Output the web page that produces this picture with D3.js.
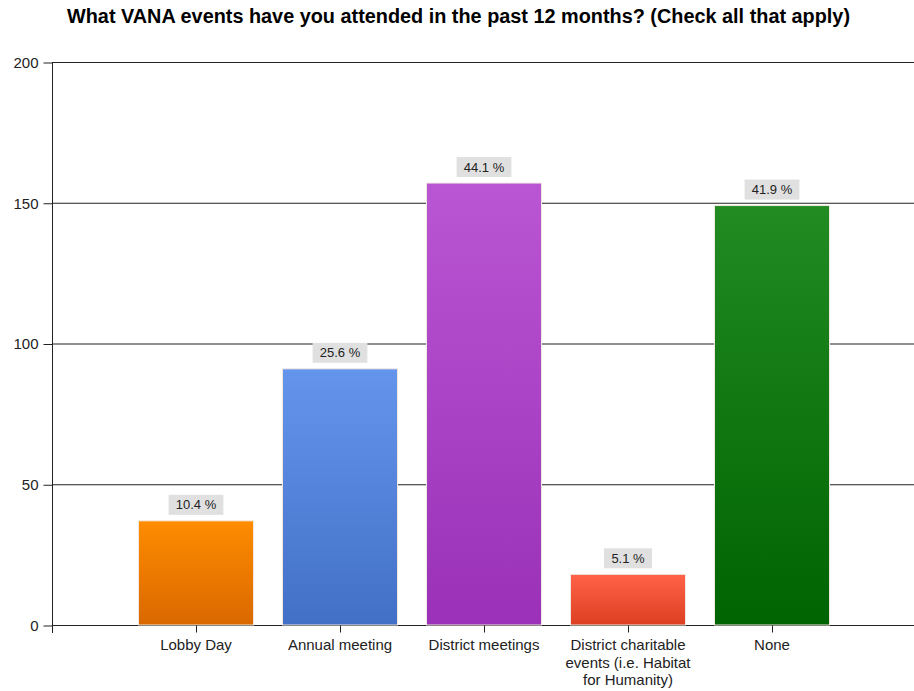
<!DOCTYPE html>
<html><head><meta charset="utf-8">
<script src="https://cdn.jsdelivr.net/npm/d3@7"></script>
<style>body{margin:0;background:#fff}svg{display:block}</style>
</head><body>
<svg id="c" width="914" height="691"></svg>
<script>
const categories = ["Lobby Day","Annual meeting","District meetings","District charitable events (i.e. Habitat for Humanity)","None"];
const categoryLines = [["Lobby Day"],["Annual meeting"],["District meetings"],["District charitable","events (i.e. Habitat","for Humanity)"],["None"]];
const counts = [37, 91, 157, 18, 149];
const percents = ["10.4 %","25.6 %","44.1 %","5.1 %","41.9 %"];
const yTicks = [0, 50, 100, 150, 200];
const colorsTop = ["#ff8c00","#6495ed","#ba55d3","#ff6347","#228b22"];
const colorsBottom = ["#d96800","#4270c6","#9a31b8","#dc3f22","#006400"];
const title = "What VANA events have you attended in the past 12 months? (Check all that apply)";

(function(){
const svg = d3.select("#c");
const font = "Arial, 'Liberation Sans', sans-serif";
const mLeft = 52, mRight = 916, mTop = 62, mBottom = 625;
const x = d3.scaleLinear().domain([0, 6]).range([mLeft, mRight]);
const y = d3.scaleLinear().domain([0, 200]).range([mBottom, mTop]);
const barW = 115;

svg.append("text").attr("x", 458.5).attr("y", 23).attr("text-anchor","middle")
  .attr("font-family", font).attr("font-weight","bold").attr("font-size", 19.5)
  .attr("textLength", 783).attr("lengthAdjust","spacingAndGlyphs")
  .attr("fill","#000").text(title);

const defs = svg.append("defs");
categories.forEach((c,i)=>{
  const g = defs.append("linearGradient").attr("id","g"+i).attr("x1",0).attr("y1",0).attr("x2",0).attr("y2",1);
  g.append("stop").attr("offset","0%").attr("stop-color",colorsTop[i]);
  g.append("stop").attr("offset","100%").attr("stop-color",colorsBottom[i]);
});

svg.append("g").selectAll("line").data(yTicks).join("line")
  .attr("x1", mLeft).attr("x2", 914).attr("y1", d=>y(d)+0.5).attr("y2", d=>y(d)+0.5)
  .attr("stroke","#222").attr("stroke-width",1);

const yAxis = svg.append("g").attr("transform",`translate(${mLeft+0.5},0.5)`)
  .call(d3.axisLeft(y).tickValues(yTicks).tickSize(9).tickPadding(5));
yAxis.select(".domain").remove();
yAxis.selectAll(".tick line").attr("stroke","#222");
yAxis.selectAll("text").attr("font-family",font).attr("font-size",15).attr("fill","#222");
svg.append("line").attr("x1",mLeft+0.5).attr("x2",mLeft+0.5).attr("y1",mTop).attr("y2",mBottom+8).attr("stroke","#222");

svg.append("g").selectAll("rect").data(counts).join("rect")
  .attr("x",(d,i)=>x(i+1)-barW/2).attr("width",barW)
  .attr("y",d=>y(d)).attr("height",d=>y(0)-y(d))
  .attr("fill",(d,i)=>`url(#g${i})`).attr("stroke","#f0e8e0").attr("stroke-width",1);

const xAxis = svg.append("g").attr("transform",`translate(0,${mBottom+0.5})`)
  .call(d3.axisBottom(x).tickValues([1,2,3,4,5]).tickSize(7).tickFormat(""));
xAxis.select(".domain").remove();
xAxis.selectAll(".tick line").attr("stroke","#222");

const xl = svg.append("g").selectAll("text").data(categoryLines).join("text")
  .attr("x",(d,i)=>x(i+1)).attr("y",mBottom+25).attr("text-anchor","middle")
  .attr("font-family",font).attr("font-size",15).attr("fill","#222");
xl.each(function(lines){
  const t = d3.select(this);
  t.selectAll("tspan").data(lines).join("tspan")
    .attr("x", t.attr("x")).attr("dy",(d,j)=>j===0?0:17.5).text(d=>d);
});

const lab = svg.append("g").selectAll("g").data(counts).join("g")
  .attr("transform",(d,i)=>`translate(${x(i+1)},${y(d)-16})`);
lab.append("rect").attr("x",(d,i)=>-(percents[i].length*3.4+7)).attr("y",-10)
  .attr("width",(d,i)=>2*(percents[i].length*3.4+7)).attr("height",20).attr("fill","#e0e0e0");
lab.append("text").attr("text-anchor","middle").attr("y",4.5)
  .attr("font-family",font).attr("font-size",13).attr("fill","#222").text((d,i)=>percents[i]);
})();
</script>
</body></html>
